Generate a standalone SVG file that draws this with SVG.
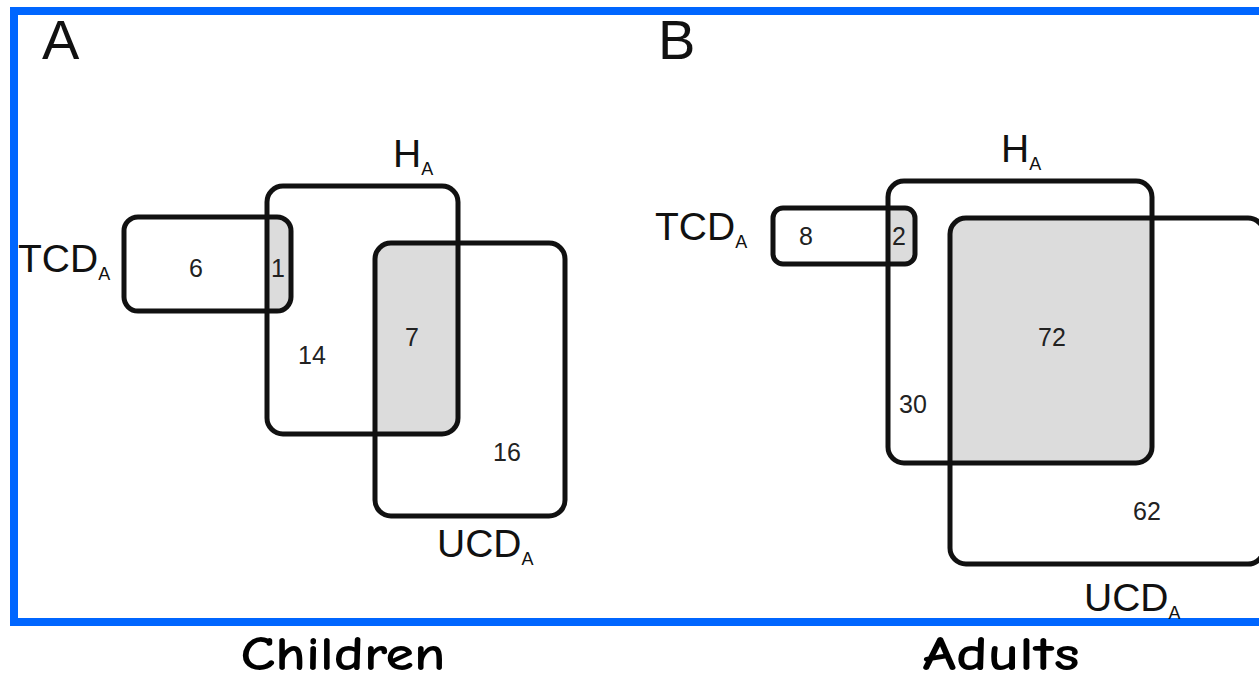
<svg xmlns="http://www.w3.org/2000/svg" width="1259" height="685" viewBox="0 0 1259 685">
<style>
.set{fill:none;stroke:#111;stroke-width:5}
.ov{fill:#dcdcdc;stroke:none}
.num{font-family:"Liberation Sans",Arial,sans-serif;font-size:25px;fill:#222;text-anchor:middle}
.lbl{font-family:"Liberation Sans",Arial,sans-serif;font-size:39px;fill:#111}
.sub{font-size:18px}
.pan{font-family:"Liberation Sans",Arial,sans-serif;font-size:56px;fill:#111}
.cap{font-family:"Comic Sans MS","Comic Neue","DejaVu Sans",sans-serif;font-weight:bold;font-size:48px;fill:#000;text-anchor:middle}
</style>
<rect x="0" y="0" width="1259" height="685" fill="#fff"/>
<rect x="14" y="11" width="1260" height="611" fill="none" stroke="#0066ff" stroke-width="8"/>

<g id="panelA">
  <text class="pan" x="42" y="59">A</text>
  <g id="A-overlaps">
    <path class="ov" d="M267,217 H277 A14,14 0 0 1 291,231 V297 A14,14 0 0 1 277,311 H267 Z"/>
    <path class="ov" d="M391,243 H458 V418 A16,16 0 0 1 442,434 H375 V259 A16,16 0 0 1 391,243 Z"/>
  </g>
  <g id="A-TCD"><rect class="set" x="124" y="217" width="167" height="94" rx="14"/>
    <text class="lbl" x="18" y="272">TCD<tspan class="sub" dy="8">A</tspan></text></g>
  <g id="A-H"><rect class="set" x="267" y="186" width="191" height="248" rx="16"/>
    <text class="lbl" x="393" y="167">H<tspan class="sub" dy="8">A</tspan></text></g>
  <g id="A-UCD"><rect class="set" x="375" y="243" width="190" height="273" rx="16"/>
    <text class="lbl" x="437" y="557">UCD<tspan class="sub" dy="8">A</tspan></text></g>
  <g id="A-counts">
    <text class="num" x="196" y="277">6</text>
    <text class="num" x="278" y="277">1</text>
    <text class="num" x="312" y="364">14</text>
    <text class="num" x="412" y="346">7</text>
    <text class="num" x="507" y="461">16</text>
  </g>
  <text class="cap" x="343" y="670" textLength="205" lengthAdjust="spacingAndGlyphs">Children</text>
</g>

<g id="panelB">
  <text class="pan" x="658" y="59">B</text>
  <g id="B-overlaps">
    <path class="ov" d="M888,208 H905 A10,10 0 0 1 915,218 V254 A10,10 0 0 1 905,264 H888 Z"/>
    <path class="ov" d="M966,218 H1152 V447 A16,16 0 0 1 1136,463 H950 V234 A16,16 0 0 1 966,218 Z"/>
  </g>
  <g id="B-TCD"><rect class="set" x="773" y="208" width="142" height="56" rx="10"/>
    <text class="lbl" x="655" y="240">TCD<tspan class="sub" dy="8">A</tspan></text></g>
  <g id="B-H"><rect class="set" x="888" y="181" width="264" height="282" rx="16"/>
    <text class="lbl" x="1001" y="162">H<tspan class="sub" dy="8">A</tspan></text></g>
  <g id="B-UCD"><rect class="set" x="950" y="218" width="314" height="346" rx="16"/>
    <text class="lbl" x="1084" y="611">UCD<tspan class="sub" dy="8">A</tspan></text></g>
  <g id="B-counts">
    <text class="num" x="806" y="245">8</text>
    <text class="num" x="899" y="245">2</text>
    <text class="num" x="1052" y="346">72</text>
    <text class="num" x="913" y="413">30</text>
    <text class="num" x="1147" y="520">62</text>
  </g>
  <text class="cap" x="1001" y="670" textLength="157" lengthAdjust="spacingAndGlyphs">Adults</text>
</g>
</svg>
